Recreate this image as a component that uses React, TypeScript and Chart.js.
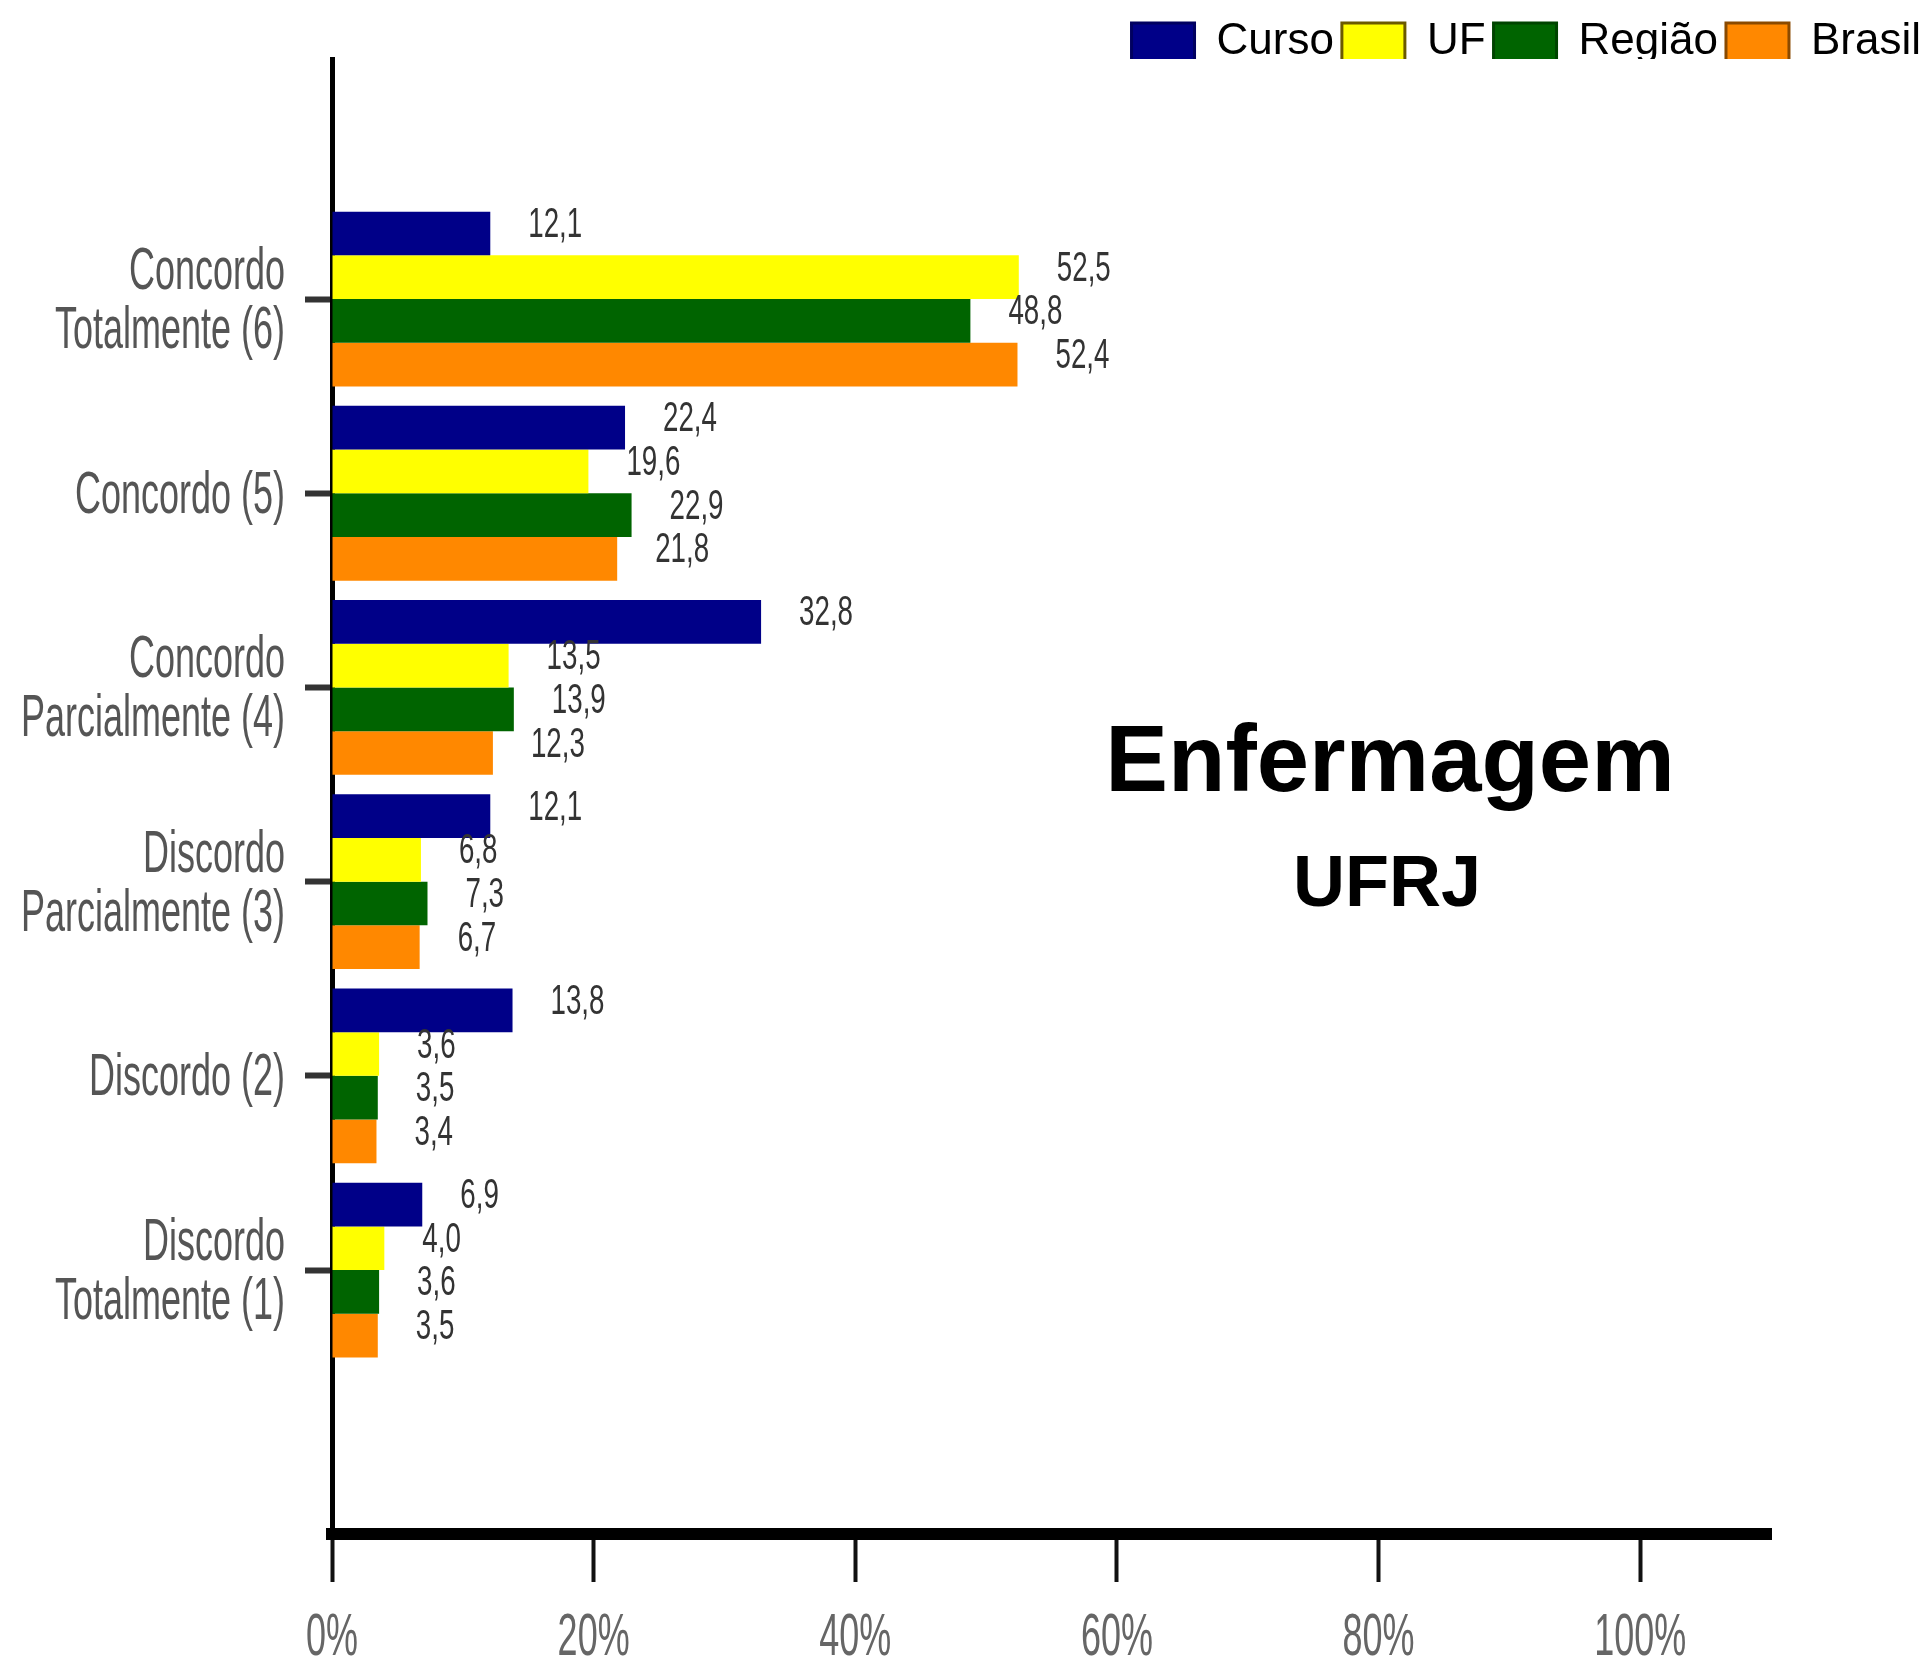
import React, { useEffect, useRef } from 'react';
import { Chart, registerables } from 'chart.js';

Chart.register(...registerables);

// ---- data ----
const categories: (string | string[])[] = [
  ['Concordo', 'Totalmente (6)'],
  'Concordo (5)',
  ['Concordo', 'Parcialmente (4)'],
  ['Discordo', 'Parcialmente (3)'],
  'Discordo (2)',
  ['Discordo', 'Totalmente (1)'],
];
const seriesNames = ['Curso', 'UF', 'Região', 'Brasil'];
const curso = [12.1, 22.4, 32.8, 12.1, 13.8, 6.9];
const uf = [52.5, 19.6, 13.5, 6.8, 3.6, 4.0];
const regiao = [48.8, 22.9, 13.9, 7.3, 3.5, 3.6];
const brasil = [52.4, 21.8, 12.3, 6.7, 3.4, 3.5];
const xTickValues = [0, 20, 40, 60, 80, 100];
const titleText = 'Enfermagem';
const subtitleText = 'UFRJ';

// ---- styles ----
const fillColors = ['#000088', '#FFFF00', '#006400', '#FF8800'];
const legendBorders = ['#000060', '#6b5a00', '#004400', '#8a4a00'];
const W = 1929;
const H = 1662;
const SANS = '"Liberation Sans", Arial, sans-serif';
const CONDENSE = 0.6;

const fmt = (v: number) => v.toFixed(1).replace('.', ',');

function condensedText(ctx: any, text: string, x: number, y: number, sx: number) {
  ctx.save();
  ctx.translate(x, y);
  ctx.scale(sx, 1);
  ctx.fillText(text, 0, 0);
  ctx.restore();
}

const valueLabels = {
  id: 'valueLabels',
  afterDatasetsDraw(chart: any) {
    const ctx = chart.ctx;
    ctx.save();
    ctx.fillStyle = '#333';
    ctx.font = '42px ' + SANS;
    ctx.textBaseline = 'middle';
    ctx.textAlign = 'left';
    chart.data.datasets.forEach((ds: any, di: number) => {
      const meta = chart.getDatasetMeta(di);
      meta.data.forEach((bar: any, i: number) => {
        condensedText(ctx, fmt(ds.data[i]), bar.x + 38, bar.y - 8, 0.66);
      });
    });
    ctx.restore();
  },
};

const axisLabels = {
  id: 'axisLabels',
  afterDraw(chart: any) {
    const ctx = chart.ctx;
    const ys = chart.scales.y;
    const xs = chart.scales.x;
    ctx.save();
    ctx.font = '60px ' + SANS;
    // category labels
    ctx.fillStyle = '#555';
    ctx.textAlign = 'right';
    ctx.textBaseline = 'middle';
    const lineH = 59;
    categories.forEach((lab, i) => {
      const lines = Array.isArray(lab) ? lab : [lab];
      const cy = ys.getPixelForValue(i);
      const rx = ys.right - 27 - 20;
      lines.forEach((ln, j) => {
        const off = (j - (lines.length - 1) / 2) * lineH + 3;
        condensedText(ctx, ln, rx, cy + off, CONDENSE);
      });
    });
    // x tick labels
    ctx.fillStyle = '#666';
    ctx.textAlign = 'center';
    ctx.textBaseline = 'alphabetic';
    xTickValues.forEach((v) => {
      condensedText(ctx, v + '%', xs.getPixelForValue(v), 1655, CONDENSE);
    });
    ctx.restore();
  },
};

const centerTitle = {
  id: 'centerTitle',
  afterDraw(chart: any) {
    const ctx = chart.ctx;
    ctx.save();
    ctx.fillStyle = '#000';
    ctx.textAlign = 'center';
    ctx.textBaseline = 'alphabetic';
    ctx.font = 'bold 94px ' + SANS;
    ctx.fillText(titleText, 1390, 791);
    ctx.font = 'bold 72px ' + SANS;
    ctx.fillText(subtitleText, 1387, 906);
    ctx.restore();
  },
};

export default function App() {
  const ref = useRef<HTMLCanvasElement>(null);

  useEffect(() => {
    const series = [curso, uf, regiao, brasil];
    const chart = new Chart(ref.current as HTMLCanvasElement, {
      type: 'bar',
      data: {
        labels: categories as any,
        datasets: series.map((d, i) => ({
          label: seriesNames[i],
          data: d,
          backgroundColor: fillColors[i],
          borderWidth: 0,
          categoryPercentage: 0.9,
          barPercentage: 1,
        })),
      },
      plugins: [valueLabels, axisLabels, centerTitle],
      options: {
        indexAxis: 'y',
        responsive: false,
        animation: false,
        devicePixelRatio: 1,
        layout: { padding: { top: 12, left: 0, right: 0, bottom: 0 } },
        plugins: {
          tooltip: { enabled: false },
          title: { display: false },
          legend: {
            display: true,
            position: 'top',
            align: 'end',
            maxHeight: 47,
            labels: {
              boxWidth: 63,
              boxHeight: 38,
              padding: 8,
              color: '#222',
              font: { family: SANS, size: 44 },
              generateLabels: () =>
                seriesNames.map((n, i) => ({
                  text: n,
                  fillStyle: fillColors[i],
                  strokeStyle: legendBorders[i],
                  lineWidth: 3,
                  hidden: false,
                  datasetIndex: i,
                })),
            },
          },
        } as any,
        scales: {
          x: {
            type: 'linear',
            min: 0,
            max: 110,
            afterBuildTicks: (s: any) => {
              s.ticks = xTickValues.map((v) => ({ value: v }));
            },
            afterFit: (s: any) => {
              s.height = 128;
              s.paddingLeft = 0;
              s.paddingRight = 0;
            },
            ticks: { display: false },
            grid: {
              display: true,
              drawOnChartArea: false,
              drawTicks: true,
              tickLength: 48,
              tickWidth: 4,
              tickColor: '#111',
            },
            border: { display: true, width: 12, color: '#000' },
          },
          y: {
            type: 'category',
            afterBuildTicks: (s: any) => {
              s._startValue = -1.236;
              s._valueRange = 7.595;
            },
            afterFit: (s: any) => {
              s.width = 332;
              s.paddingTop = 0;
              s.paddingBottom = 0;
            },
            ticks: { display: false },
            grid: {
              display: true,
              offset: false,
              drawOnChartArea: false,
              drawTicks: true,
              tickLength: 27,
              tickWidth: 6,
              tickColor: '#333',
            },
            border: { display: true, width: 5, color: '#000' },
          },
          yRight: {
            type: 'linear',
            position: 'right',
            display: true,
            ticks: { display: false },
            grid: { display: false },
            border: { display: false },
            afterFit: (s: any) => {
              s.width = 158;
            },
          },
        } as any,
      },
    });
    return () => chart.destroy();
  }, []);

  return (
    <div style={{ position: 'absolute', left: 0, top: 0, width: W, height: H, background: '#fff' }}>
      <canvas ref={ref} width={W} height={H} style={{ display: 'block', width: W, height: H }} />
    </div>
  );
}
